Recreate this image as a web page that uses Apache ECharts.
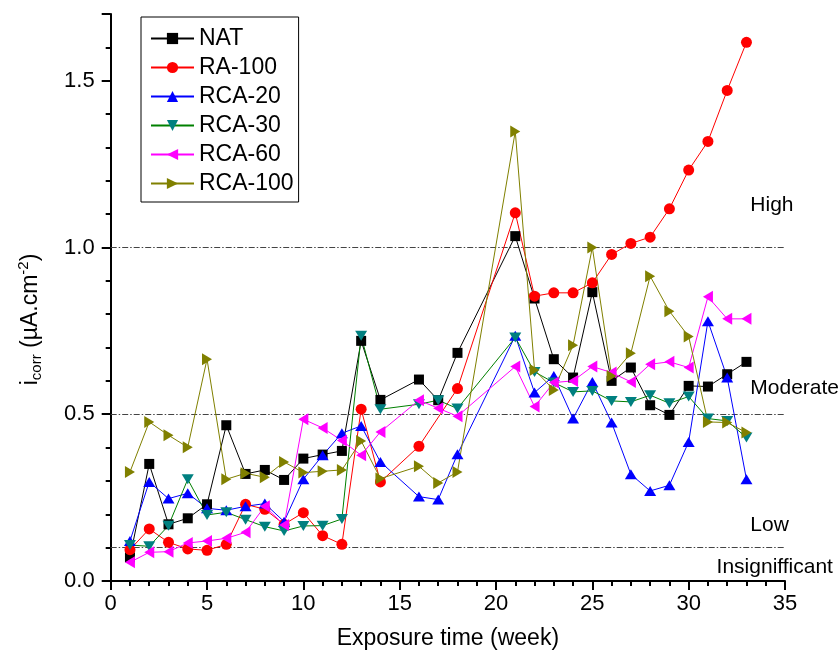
<!DOCTYPE html>
<html>
<head>
<meta charset="utf-8">
<script src="https://cdn.jsdelivr.net/npm/echarts@6/dist/echarts.min.js"></script>
<style>
  html, body { margin: 0; padding: 0; background: #fff; }
  #chart { width: 840px; height: 662px; }
</style>
</head>
<body>
<div id="chart"></div>
<script>
// exposure weeks (no readings at 15, 19, 20)
const weeks = [1, 2, 3, 4, 5, 6, 7, 8, 9, 10, 11, 12, 13, 14, 16, 17, 18, 21, 22, 23, 24, 25, 26, 27, 28, 29, 30, 31, 32, 33];

const nat    = [0.071, 0.351, 0.170, 0.188, 0.230, 0.467, 0.321, 0.333, 0.303, 0.367, 0.379, 0.390, 0.720, 0.543, 0.604, 0.542, 0.684, 1.034, 0.847, 0.665, 0.610, 0.866, 0.600, 0.640, 0.527, 0.498, 0.585, 0.583, 0.620, 0.657];
const ra100  = [0.094, 0.156, 0.116, 0.096, 0.092, 0.110, 0.230, 0.215, 0.170, 0.205, 0.136, 0.110, 0.515, 0.297, 0.404, null, 0.577, 1.104, 0.854, 0.864, 0.864, 0.894, 0.979, 1.012, 1.031, 1.116, 1.232, 1.318, 1.471, 1.615];
const rca20  = [0.120, 0.297, 0.247, 0.263, 0.218, 0.212, 0.224, 0.232, 0.178, 0.305, 0.377, 0.443, 0.465, 0.357, 0.253, 0.244, 0.380, 0.735, 0.565, 0.615, 0.487, 0.597, 0.475, 0.320, 0.270, 0.287, 0.417, 0.779, 0.610, 0.305];
const rca30  = [0.108, 0.104, 0.166, 0.305, 0.198, 0.206, 0.184, 0.163, 0.150, 0.165, 0.166, 0.186, 0.735, 0.515, 0.530, 0.542, 0.517, 0.730, 0.627, 0.595, 0.567, 0.570, 0.540, 0.537, 0.557, 0.533, 0.553, 0.487, 0.480, 0.430];
const rca60  = [0.056, 0.086, 0.088, 0.114, 0.120, 0.128, 0.146, 0.224, 0.168, 0.485, 0.459, 0.421, 0.377, 0.447, 0.542, 0.518, 0.494, 0.643, 0.523, 0.595, 0.600, 0.643, 0.625, 0.597, 0.650, 0.657, 0.640, 0.852, 0.786, 0.786];
const rca100 = [0.327, 0.477, 0.437, 0.401, 0.665, 0.305, 0.323, 0.311, 0.357, 0.325, 0.329, 0.333, 0.420, 0.307, 0.344, 0.294, 0.327, 1.348, 0.633, 0.573, 0.707, 1.000, 0.615, 0.683, 0.914, 0.809, 0.733, 0.477, 0.475, 0.445];

// corrosion level thresholds and their labels
const levelLines = [0.1, 0.5, 1.0];
const levelNames = ["High", "Moderate", "Low", "Insignifficant"];
const levelLabelPos = [[33.2, 1.126], [33.2, 0.578], [33.2, 0.168], [31.45, 0.042]];

const FONT = '"Liberation Sans", Arial, sans-serif';

const toPairs = (arr) => weeks.map((w, i) => [w, arr[i]]).filter((p) => p[1] !== null);

const makeSeries = (name, arr, symbol, size, markerColor, lineColor) => ({
  name: name,
  type: "line",
  data: toPairs(arr),
  symbol: symbol,
  symbolSize: size,
  showAllSymbol: true,
  itemStyle: { color: markerColor },
  lineStyle: { color: lineColor, width: 1 },
  emphasis: { disabled: true }
});

const series = [
  makeSeries("NAT", nat, "rect", 10, "#000000", "#000000"),
  makeSeries("RA-100", ra100, "circle", 11, "#ff0000", "#ff0000"),
  makeSeries("RCA-20", rca20, "path://M6,0L12,10L0,10Z", [12, 10], "#0000ff", "#0000ff"),
  makeSeries("RCA-30", rca30, "path://M0,0L12,0L6,10Z", [12, 10], "#008080", "#008000"),
  makeSeries("RCA-60", rca60, "path://M10,0L10,12L0,6Z", [10, 12], "#ff00ff", "#ff00ff"),
  makeSeries("RCA-100", rca100, "path://M0,0L10,6L0,12Z", [10, 12], "#808000", "#808000")
];

// threshold lines + text on the first series
series[0].markLine = {
  z: 1,
  silent: true,
  symbol: "none",
  label: { show: false },
  lineStyle: { color: "#444", width: 1, type: [6, 2, 1.5, 2] },
  data: levelLines.map((v) => ({ yAxis: v }))
};
series[0].markPoint = {
  silent: true,
  symbol: "circle",
  symbolSize: 0,
  label: {
    show: true,
    position: "right",
    distance: 0,
    formatter: "{b}",
    color: "#000",
    fontSize: 21,
    fontFamily: FONT
  },
  data: levelNames.map((n, i) => ({ name: n, coord: levelLabelPos[i] }))
};

const chart = echarts.init(document.getElementById("chart"), null, { renderer: "canvas" });

const option = {
  animation: false,
  backgroundColor: "#fff",
  textStyle: { fontFamily: FONT },
  grid: { left: 110.7, right: 55, top: 14, bottom: 81 },
  legend: {
    data: series.map((s) => s.name),
    orient: "vertical",
    left: 141,
    top: 17,
    borderColor: "#000",
    borderWidth: 1,
    padding: [10, 5, 7, 9],
    itemGap: 6,
    itemWidth: 43,
    itemHeight: 14,
    selectedMode: false,
    textStyle: { fontSize: 23, lineHeight: 23, color: "#000", fontFamily: FONT }
  },
  xAxis: {
    type: "value",
    min: 0,
    max: 35,
    interval: 5,
    name: "Exposure time (week)",
    nameLocation: "middle",
    nameGap: 46,
    nameTextStyle: { fontSize: 23, color: "#000", fontFamily: FONT },
    axisLine: { onZero: false, lineStyle: { color: "#000", width: 2 } },
    axisTick: { length: 9, lineStyle: { width: 2, color: "#000" } },
    minorTick: { show: true, splitNumber: 5, length: 5, lineStyle: { width: 2, color: "#000" } },
    axisLabel: { fontSize: 22, color: "#000", margin: 12, fontFamily: FONT },
    splitLine: { show: false }
  },
  yAxis: {
    type: "value",
    min: 0,
    max: 1.7,
    interval: 0.5,
    name: "{a|i}{sub|corr}{a| (µA.cm}{sup|-2}{a|)}",
    nameLocation: "middle",
    nameGap: 66,
    nameTextStyle: {
      color: "#000",
      fontFamily: FONT,
      padding: [0, 44, 0, 0],
      rich: {
        a: { fontSize: 23, lineHeight: 28, fontFamily: FONT, color: "#000" },
        sub: { fontSize: 15, lineHeight: 28, verticalAlign: "bottom", fontFamily: FONT, color: "#000", padding: [10, 0, 0, 0] },
        sup: { fontSize: 15, lineHeight: 28, verticalAlign: "top", fontFamily: FONT, color: "#000", padding: [0, 0, 10, 0] }
      }
    },
    axisLine: { lineStyle: { color: "#000", width: 2 } },
    axisTick: { length: 9, lineStyle: { width: 2, color: "#000" } },
    minorTick: { show: true, splitNumber: 5, length: 5, lineStyle: { width: 2, color: "#000" } },
    axisLabel: {
      fontSize: 22,
      color: "#000",
      margin: 16,
      fontFamily: FONT,
      showMaxLabel: false,
      formatter: (v) => v.toFixed(1)
    },
    splitLine: { show: false }
  },
  series: series
};

chart.setOption(option);
</script>
</body>
</html>
